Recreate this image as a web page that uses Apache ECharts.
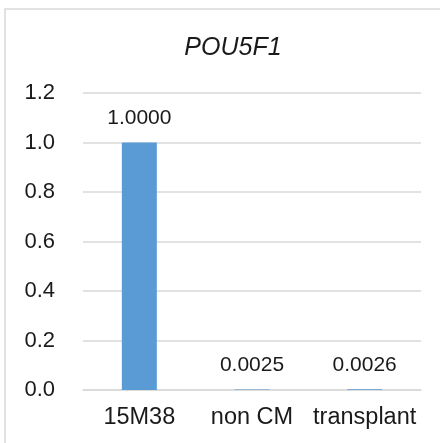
<!DOCTYPE html>
<html>
<head>
<meta charset="utf-8">
<script src="https://cdn.jsdelivr.net/npm/echarts@6/dist/echarts.min.js"></script>
<style>
  html, body { margin: 0; padding: 0; background: #fff; }
  #chart { width: 440px; height: 443px; }
</style>
</head>
<body>
<div id="chart"></div>
<script>
// Relative expression of POU5F1 per sample
const categories = ['15M38', 'non CM', 'transplant'];
const values = [1.0, 0.0025, 0.0026];
const valueLabels = ['1.0000', '0.0025', '0.0026'];
const yTicks = [0.0, 0.2, 0.4, 0.6, 0.8, 1.0, 1.2];

const chart = echarts.init(document.getElementById('chart'));
const font = 'Liberation Sans, Arial, sans-serif';

chart.setOption({
  animation: false,
  title: {
    text: 'POU5F1',
    left: 228,
    top: 31,
    textAlign: 'center',
    textStyle: { fontFamily: font, fontStyle: 'italic', fontWeight: 'normal', fontSize: 25, color: '#1a1a1a' }
  },
  graphic: [{
    type: 'rect',
    shape: { x: 5, y: 9, width: 446, height: 445 },
    style: { fill: 'none', stroke: '#d9d9d9', lineWidth: 1.5 },
    silent: true
  }],
  grid: { left: 83, right: 19, top: 93, bottom: 53 },
  xAxis: {
    type: 'category',
    data: categories,
    axisLine: { show: true, lineStyle: { color: '#d9d9d9', width: 1.5 } },
    axisTick: { show: false },
    axisLabel: { interval: 0, fontFamily: font, fontSize: 23.5, color: '#1a1a1a', margin: 16 }
  },
  yAxis: {
    type: 'value',
    min: yTicks[0],
    max: yTicks[yTicks.length - 1],
    interval: 0.2,
    axisLine: { show: false },
    axisTick: { show: false },
    splitLine: { lineStyle: { color: '#d9d9d9', width: 1.5 } },
    axisLabel: {
      fontFamily: font, fontSize: 22, color: '#1a1a1a', margin: 28,
      formatter: v => v.toFixed(1)
    }
  },
  series: [{
    type: 'bar',
    data: values,
    barWidth: 35,
    itemStyle: { color: '#5b9bd5' },
    label: {
      show: true,
      position: 'top',
      distance: 14,
      fontFamily: font,
      fontSize: 21,
      color: '#1a1a1a',
      formatter: p => valueLabels[p.dataIndex]
    }
  }]
});
</script>
</body>
</html>
